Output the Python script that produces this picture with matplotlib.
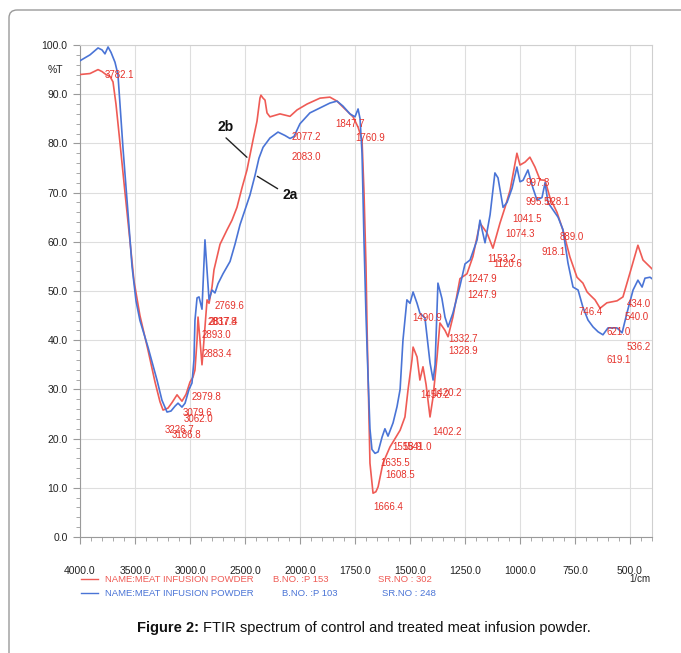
import numpy as np
import matplotlib
matplotlib.use("Agg")
import matplotlib.pyplot as plt
from matplotlib.patches import FancyBboxPatch
from matplotlib.ticker import FixedLocator, FixedFormatter

# ---------------- data ----------------
blue_wn = [4000, 3909, 3836, 3800, 3773, 3745, 3718, 3682, 3655, 3609, 3564, 3527, 3491, 3455,
           3382, 3300, 3255, 3209, 3173, 3136, 3109, 3073, 3045, 3009, 2982, 2964, 2955, 2936,
           2918, 2891, 2864, 2845, 2827, 2800, 2773, 2745, 2700, 2636, 2591, 2545, 2500, 2455,
           2409, 2373, 2336, 2273, 2200, 2136, 2091, 2055, 2000, 1955, 1909, 1864, 1832, 1805,
           1773, 1750, 1736, 1727, 1718, 1709, 1700, 1691, 1682, 1673, 1659, 1645, 1627, 1614,
           1600, 1577, 1559, 1545, 1532, 1514, 1500, 1486, 1468, 1455, 1432, 1409, 1395, 1386,
           1373, 1355, 1341, 1327, 1305, 1273, 1250, 1227, 1195, 1182, 1159, 1136, 1114, 1100,
           1077, 1059, 1036, 1014, 1000, 986, 964, 941, 923, 900, 886, 873, 850, 827, 805, 782,
           759, 736, 714, 691, 668, 645, 623, 600, 559, 536, 514, 486, 464, 445, 432, 409, 400]
blue_t = [96.8, 98.0, 99.4, 99.0, 98.2, 99.6, 98.5, 96.5, 94.0, 79.0, 66.0, 55.0, 48.0, 44.0,
          38.6, 31.9, 27.8, 25.4, 25.6, 26.6, 27.2, 26.4, 27.2, 30.0, 31.3, 36.0, 44.0, 48.6,
          48.8, 46.3, 60.4, 54.0, 48.2, 50.2, 49.6, 51.5, 53.5, 56.0, 59.5, 63.5, 66.5, 69.5,
          73.5, 77.0, 79.2, 81.1, 82.3, 81.6, 81.0, 81.4, 84.0, 86.2, 87.2, 88.2, 88.6, 87.6,
          86.0, 85.4, 87.0, 85.0, 78.0, 60.0, 45.0, 33.0, 22.0, 17.8, 17.0, 17.3, 20.3, 22.0,
          20.5, 23.2, 26.5, 30.0, 40.0, 48.2, 47.5, 49.8, 47.5, 45.5, 44.5, 35.4, 31.9, 35.0,
          51.6, 48.5, 44.7, 42.7, 45.5, 51.0, 55.5, 56.3, 60.4, 64.4, 59.8, 65.5, 74.0, 73.0,
          67.0, 68.0, 70.9, 75.2, 72.2, 72.5, 74.6, 70.9, 68.5, 69.0, 72.0, 68.0, 66.5, 65.0,
          62.5, 55.7, 50.8, 50.2, 46.7, 44.1, 42.7, 41.7, 41.1, 42.5, 42.5, 41.5, 45.5, 50.2,
          52.2, 50.8, 52.6, 52.8, 52.5]

red_wn = [4000, 3909, 3836, 3800, 3764, 3727, 3700, 3673, 3636, 3591, 3545, 3509, 3455, 3382,
          3318, 3273, 3245, 3200, 3164, 3118, 3073, 3036, 3000, 2973, 2955, 2936, 2927, 2909,
          2891, 2873, 2845, 2827, 2800, 2782, 2727, 2664, 2618, 2573, 2527, 2482, 2427, 2391,
          2364, 2355, 2336, 2318, 2300, 2273, 2182, 2091, 2027, 1968, 1909, 1864, 1832, 1805,
          1759, 1736, 1718, 1709, 1700, 1695, 1682, 1668, 1655, 1645, 1623, 1591, 1545, 1523,
          1509, 1491, 1486, 1468, 1455, 1441, 1427, 1409, 1395, 1377, 1364, 1341, 1327, 1305,
          1273, 1241, 1214, 1182, 1150, 1123, 1091, 1068, 1045, 1014, 1000, 977, 955, 932, 909,
          886, 864, 832, 805, 773, 741, 714, 695, 682, 659, 636, 605, 559, 532, 500, 464, 441,
          409, 400]
red_t = [94.0, 94.2, 95.0, 94.6, 94.0, 93.6, 92.5, 88.0, 80.0, 70.0, 60.0, 52.0, 45.0, 38.0,
         31.5, 27.5, 25.8, 26.2, 27.3, 28.9, 27.6, 29.0, 31.5, 32.5, 33.9, 40.0, 44.7, 40.0,
         35.0, 40.0, 48.2, 47.5, 50.8, 54.3, 59.5, 62.4, 64.4, 67.0, 71.0, 74.6, 80.7, 84.5,
         89.2, 89.8, 89.2, 88.8, 86.2, 85.4, 86.0, 85.5, 86.8, 88.0, 89.2, 89.4, 88.6, 87.4,
         85.4, 83.3, 80.7, 70.0, 55.0, 42.0, 15.0, 8.9, 9.2, 10.2, 15.0, 18.3, 21.7, 24.4,
         29.9, 36.0, 38.6, 36.6, 31.9, 34.6, 31.0, 24.4, 28.5, 36.6, 43.5, 42.0, 40.7, 44.7,
         52.5, 53.5, 57.0, 63.8, 61.8, 58.7, 63.8, 67.0, 70.5, 78.0, 75.6, 76.2, 77.2, 75.2,
         72.6, 72.5, 69.0, 66.0, 62.4, 56.9, 52.8, 51.6, 49.8, 49.2, 48.2, 46.5, 47.6, 48.0,
         48.8, 53.7, 59.3, 56.3, 54.9, 54.5]

# peak labels: text, wavenumber position, %T position
peak_labels = ["3782.1", "2077.2", "2083.0", "1847.7", "1760.9", "2769.6", "2837.8", "2817.4",
               "2893.0", "2883.4", "2979.8", "3079.6", "3062.0", "3226.7", "3186.8", "1490.9",
               "1332.7", "1328.9", "1456.2", "1420.2", "1402.2", "1558.9", "1541.0", "1635.5",
               "1608.5", "1666.4", "1247.9", "1247.9", "1153.2", "1120.6", "1074.3", "1041.5",
               "997.3", "995.5", "928.1", "889.0", "918.1", "746.4", "621.0", "619.1", "434.0",
               "540.0", "536.2"]
peak_x = [3773, 2073, 2073, 1841, 1750, 2773, 2836, 2827, 2891, 2882, 2982, 3064, 3055, 3227,
          3164, 1491, 1327, 1327, 1455, 1400, 1400, 1582, 1536, 1636, 1614, 1668, 1241, 1241,
          1150, 1123, 1068, 1036, 977, 977, 886, 818, 900, 732, 605, 605, 514, 523, 514]
peak_y = [93.9, 81.3, 77.2, 83.9, 81.1, 47.0, 43.7, 43.7, 41.1, 37.2, 28.5, 25.2, 24.0, 21.7,
          20.7, 44.5, 40.2, 37.8, 28.9, 29.3, 21.3, 18.3, 18.3, 15.0, 12.6, 6.1, 52.4, 49.2,
          56.5, 55.5, 61.6, 64.6, 72.0, 68.1, 68.1, 61.0, 57.9, 45.7, 41.7, 36.0, 47.4, 44.7,
          38.6]

x_major = [4000, 3500, 3000, 2500, 2000, 1750, 1500, 1250, 1000, 750, 500]
x_major_labels = ["4000.0", "3500.0", "3000.0", "2500.0", "2000.0", "1750.0", "1500.0",
                  "1250.0", "1000.0", "750.0", "500.0"]
y_major = [0, 10, 20, 30, 40, 50, 60, 70, 80, 90, 100]
y_major_labels = ["0.0", "10.0", "20.0", "30.0", "40.0", "50.0", "60.0", "70.0", "80.0",
                  "90.0", "100.0"]

RED = "#ef5b55"
BLUE = "#4a74d6"
LBL = "#e5322b"

plt.rcParams['font.family'] = ['Liberation Sans', 'DejaVu Sans']

fig = plt.figure(figsize=(6.81, 6.53), dpi=100)

# outer rounded frame
frame = FancyBboxPatch((9 / 681, -0.05), 1.2, 1.05 - 10 / 653 + 0.0,
                       boxstyle="round,pad=0,rounding_size=0.012",
                       transform=fig.transFigure, fill=False,
                       edgecolor="#9a9a9a", linewidth=1.0)
fig.patches.append(frame)

ax = fig.add_axes([80 / 681, 1 - 537 / 653, 572 / 681, 492 / 653])


def fwd(x):
    x = np.asarray(x, dtype=float)
    return np.where(x > 2000, 2000 + (x - 2000) / 2.0, x)


def inv(y):
    y = np.asarray(y, dtype=float)
    return np.where(y > 2000, 2000 + (y - 2000) * 2.0, y)


ax.set_xscale('function', functions=(fwd, inv))
ax.set_xlim(4000, 400)
ax.set_ylim(0, 100)

ax.plot(red_wn, red_t, color=RED, lw=1.2, zorder=3)
ax.plot(blue_wn, blue_t, color=BLUE, lw=1.2, zorder=3)

ax.xaxis.set_major_locator(FixedLocator(x_major))
ax.xaxis.set_major_formatter(FixedFormatter(x_major_labels))
minor_x = [w for w in range(4000, 2000, -100) if w not in x_major] + \
          [w for w in range(2000, 399, -50) if w not in x_major]
ax.xaxis.set_minor_locator(FixedLocator(minor_x))
ax.yaxis.set_major_locator(FixedLocator(y_major))
ax.yaxis.set_major_formatter(FixedFormatter(y_major_labels))
ax.yaxis.set_minor_locator(FixedLocator([v for v in range(0, 101, 2) if v % 10]))

ax.tick_params(axis='both', which='major', direction='out', length=5, width=0.8,
               color='#9a9a9a', labelsize=7.5, labelcolor='#222222')
ax.tick_params(axis='both', which='minor', direction='out', length=3, width=0.6,
               color='#9a9a9a')
ax.tick_params(axis='x', which='major', pad=16)
ax.tick_params(axis='y', which='major', pad=4)

ax.grid(True, which='major', color='#dedede', lw=0.8, zorder=0)
for s in ['top', 'right']:
    ax.spines[s].set_color('#cfcfcf')
    ax.spines[s].set_linewidth(0.8)
for s in ['left', 'bottom']:
    ax.spines[s].set_color('#9a9a9a')
    ax.spines[s].set_linewidth(0.8)

for txt, px, py in zip(peak_labels, peak_x, peak_y):
    ax.text(px, py, txt, color=LBL, fontsize=7, ha='left', va='center', zorder=4)

# %T label
ax.text(-0.03, 0.95, "%T", transform=ax.transAxes, fontsize=7.5, color='#222222',
        ha='right', va='center')

# 2a / 2b markers
ax.annotate("", xy=(2464, 76.8), xytext=(2691, 81.5),
            arrowprops=dict(arrowstyle='-', color='#222222', lw=1.0))
ax.text(2673, 83.4, "2b", fontsize=10, fontweight='bold', ha='center', va='center',
        color='#111111')
ax.annotate("", xy=(2182, 70.5), xytext=(2409, 73.6),
            arrowprops=dict(arrowstyle='-', color='#222222', lw=1.0))
ax.text(2091, 69.5, "2a", fontsize=10, fontweight='bold', ha='center', va='center',
        color='#111111')

# unit label
fig.text(650 / 681, 1 - 579 / 653, "1/cm", fontsize=7, ha='right', va='center',
         color='#222222')

# legend rows
for yy, col, bno, sr, xb, xs in [(579, RED, "B.NO. :P 153", "SR.NO : 302", 273, 378),
                                 (593, BLUE, "B.NO. :P 103", "SR.NO : 248", 282, 382)]:
    fig.add_artist(plt.Line2D([81 / 681, 98 / 681], [1 - yy / 653, 1 - yy / 653],
                              color=col, lw=1.0))
    fig.text(105 / 681, 1 - yy / 653, "NAME:MEAT INFUSION POWDER", fontsize=6.8,
             color=col, ha='left', va='center')
    fig.text(xb / 681, 1 - yy / 653, bno, fontsize=6.8, color=col, ha='left', va='center')
    fig.text(xs / 681, 1 - yy / 653, sr, fontsize=6.8, color=col, ha='left', va='center')

# caption
t1 = fig.text(137 / 681, 1 - 628 / 653, "Figure 2:", fontsize=10.5, fontweight='bold',
              ha='left', va='center', color='#111111')
fig.canvas.draw()
bb = t1.get_window_extent()
fig.text(bb.x1 / fig.bbox.width + 4 / 681, 1 - 628 / 653,
         "FTIR spectrum of control and treated meat infusion powder.",
         fontsize=10.5, ha='left', va='center', color='#111111')

fig.savefig("out.png", dpi=100)
